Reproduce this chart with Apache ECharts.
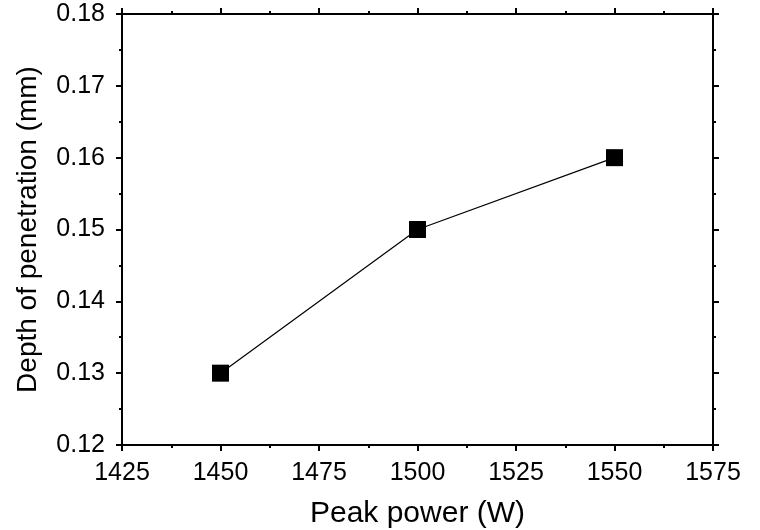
<!DOCTYPE html>
<html>
<head>
<meta charset="utf-8">
<script src="https://cdn.jsdelivr.net/npm/echarts@6/dist/echarts.min.js"></script>
<style>html,body{margin:0;padding:0;background:#fff}#c{width:760px;height:530px}</style>
</head>
<body>
<div id="c"></div>
<script>
const peakPower = [1450, 1500, 1550];
const depth = [0.130, 0.150, 0.160];
const xName = 'Peak power (W)';
const yName = 'Depth of penetration (mm)';

const chart = echarts.init(document.getElementById('c'));
const font = 'Liberation Sans, Arial, sans-serif';
const axisLine = {show: true, onZero: false, lineStyle: {color: '#000', width: 2}};
const tick = {show: true, inside: false, length: 6, lineStyle: {color: '#000', width: 2}};
const minor = {show: true, splitNumber: 2, length: 3, lineStyle: {color: '#000', width: 2}};
chart.setOption({
  animation: false,
  backgroundColor: '#fff',
  grid: {left: 122, right: 47, top: 14, bottom: 85, outerBoundsMode: 'none', containLabel: false},
  xAxis: [{
    type: 'value', min: 1425, max: 1575, interval: 25, position: 'bottom',
    name: xName, nameLocation: 'middle', nameGap: 54,
    nameTextStyle: {fontFamily: font, fontSize: 30, color: '#000'},
    axisLine, axisTick: tick, minorTick: minor, splitLine: {show: false},
    axisLabel: {fontFamily: font, fontSize: 25, color: '#000', margin: 16,
      formatter: v => String(v)}
  }, {
    type: 'value', min: 1425, max: 1575, interval: 25, position: 'top',
    axisLine, axisTick: tick, minorTick: minor, splitLine: {show: false},
    axisLabel: {show: false}
  }],
  yAxis: [{
    type: 'value', min: 0.12, max: 0.18, interval: 0.01, position: 'left',
    name: yName, nameLocation: 'middle', nameGap: 80,
    nameTextStyle: {fontFamily: font, fontSize: 28, color: '#000'},
    axisLine, axisTick: tick, minorTick: minor, splitLine: {show: false},
    axisLabel: {fontFamily: font, fontSize: 25, color: '#000', margin: 17,
      formatter: v => v.toFixed(2)}
  }, {
    type: 'value', min: 0.12, max: 0.18, interval: 0.01, position: 'right',
    axisLine, axisTick: tick, minorTick: minor, splitLine: {show: false},
    axisLabel: {show: false}
  }],
  series: [{
    type: 'line',
    data: peakPower.map((x, i) => [x, depth[i]]),
    symbol: 'rect', symbolSize: 17,
    itemStyle: {color: '#000'},
    lineStyle: {color: '#000', width: 1.2}
  }]
});
</script>
</body>
</html>
